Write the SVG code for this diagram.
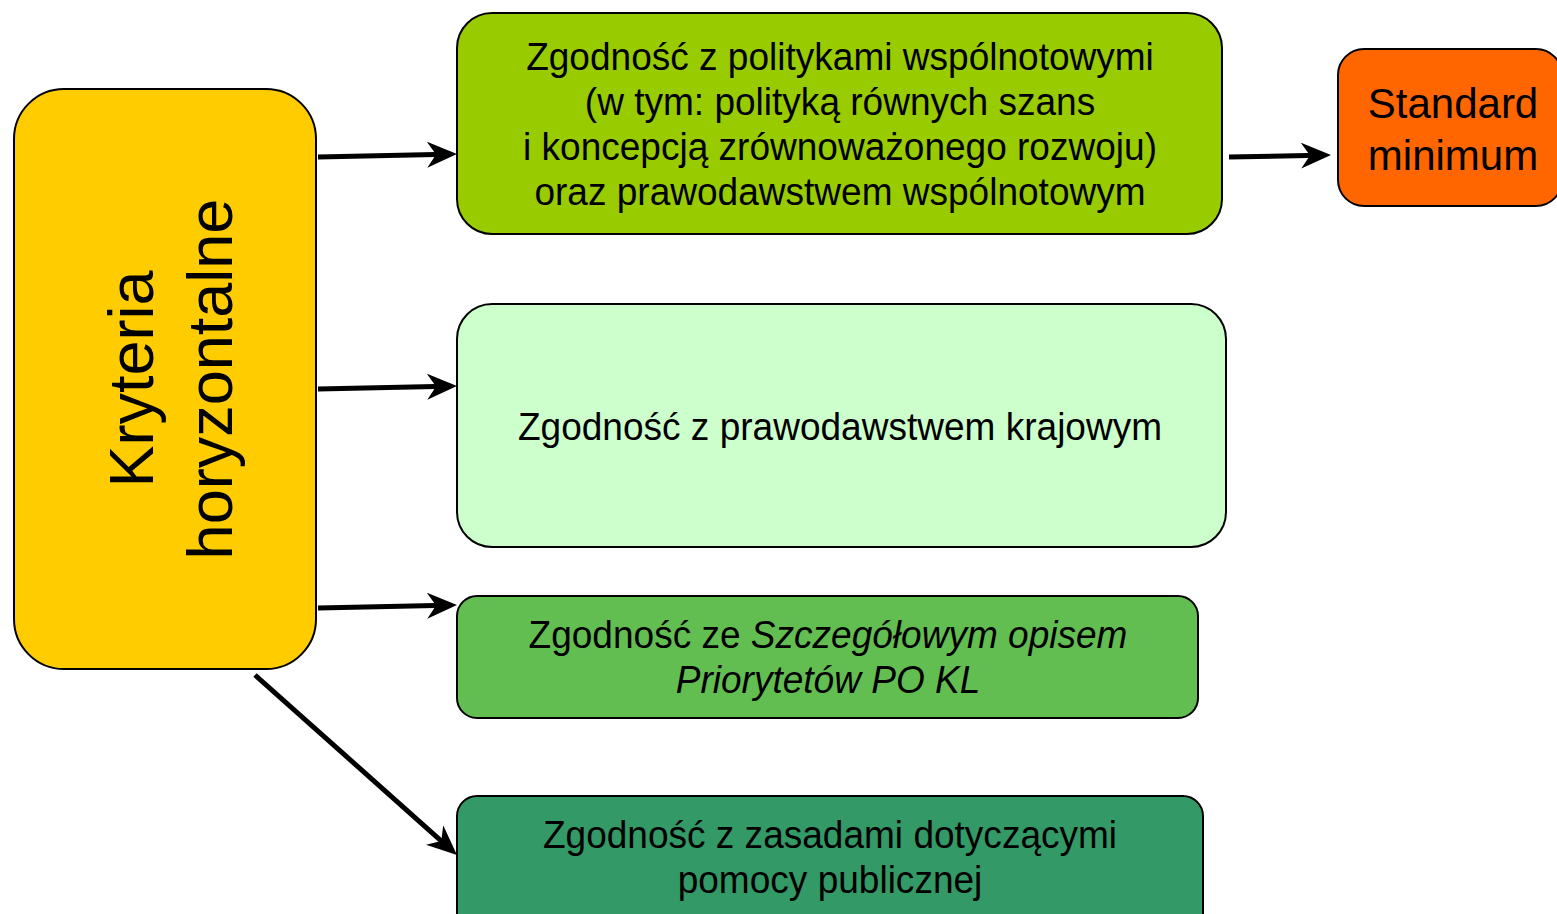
<svg xmlns="http://www.w3.org/2000/svg" width="1557" height="914" viewBox="0 0 1557 914">
  <style>
    .box { stroke: #000; stroke-width: 2; }
    .t { font-family: "Liberation Sans", Arial, sans-serif; fill: #000; text-anchor: middle; }
    .m { font-size: 39px; }
    .conn { stroke: #000; stroke-width: 5; fill: none; marker-end: url(#arr); }
  </style>
  <defs>
    <marker id="arr" markerUnits="userSpaceOnUse" viewBox="0 0 30 26" refX="20" refY="13" markerWidth="30" markerHeight="26" orient="auto">
      <path d="M0,0 L30,13 L0,26 L9,13 Z" fill="#000"/>
    </marker>
  </defs>
  <rect width="1557" height="914" fill="#fff"/>

  <g id="connectors">
    <line class="conn" x1="318" y1="157" x2="447" y2="154.2"/>
    <line class="conn" x1="318" y1="389" x2="447" y2="386.2"/>
    <line class="conn" x1="318" y1="608" x2="447" y2="605.2"/>
    <line class="conn" x1="255" y1="675" x2="449.5" y2="848.3"/>
    <line class="conn" x1="1229" y1="157" x2="1321" y2="155.2"/>
  </g>

  <g id="kryteria">
    <rect class="box" x="14" y="89" width="302" height="580" rx="50" fill="#FFCC00"/>
    <text class="t" font-size="63" transform="translate(153,379) rotate(-90)">Kryteria</text>
    <text class="t" font-size="63" transform="translate(232,379) rotate(-90)">horyzontalne</text>
  </g>

  <g id="wspolnotowe">
    <rect class="box" x="457" y="13" width="765" height="221" rx="35" fill="#99CC00"/>
    <g transform="translate(840,0) scale(0.95,1)">
      <text class="t m" x="0" y="70">Zgodność z politykami wspólnotowymi</text>
      <text class="t m" x="0" y="115">(w tym: polityką równych szans</text>
      <text class="t m" x="0" y="160">i koncepcją zrównoważonego rozwoju)</text>
      <text class="t m" x="0" y="205">oraz prawodawstwem wspólnotowym</text>
    </g>
  </g>

  <g id="standard">
    <rect class="box" x="1338" y="49" width="224" height="157" rx="26" fill="#FF6600"/>
    <text class="t" font-size="42" x="1453" y="118">Standard</text>
    <text class="t" font-size="42" x="1453" y="170">minimum</text>
  </g>

  <g id="krajowe">
    <rect class="box" x="457" y="304" width="769" height="243" rx="35" fill="#CCFFCC"/>
    <g transform="translate(840,0) scale(0.95,1)">
      <text class="t m" x="0" y="440">Zgodność z prawodawstwem krajowym</text>
    </g>
  </g>

  <g id="szop">
    <rect class="box" x="457" y="596" width="741" height="122" rx="20" fill="#63BE52"/>
    <g transform="translate(828,0) scale(0.95,1)">
      <text class="t m" x="0" y="648">Zgodność ze <tspan font-style="italic">Szczegółowym opisem</tspan></text>
      <text class="t m" x="0" y="693" font-style="italic">Priorytetów PO KL</text>
    </g>
  </g>

  <g id="pomoc">
    <rect class="box" x="457" y="796" width="746" height="140" rx="20" fill="#339966"/>
    <g transform="translate(830,0) scale(0.95,1)">
      <text class="t m" x="0" y="848">Zgodność z zasadami dotyczącymi</text>
      <text class="t m" x="0" y="893">pomocy publicznej</text>
    </g>
  </g>
</svg>
